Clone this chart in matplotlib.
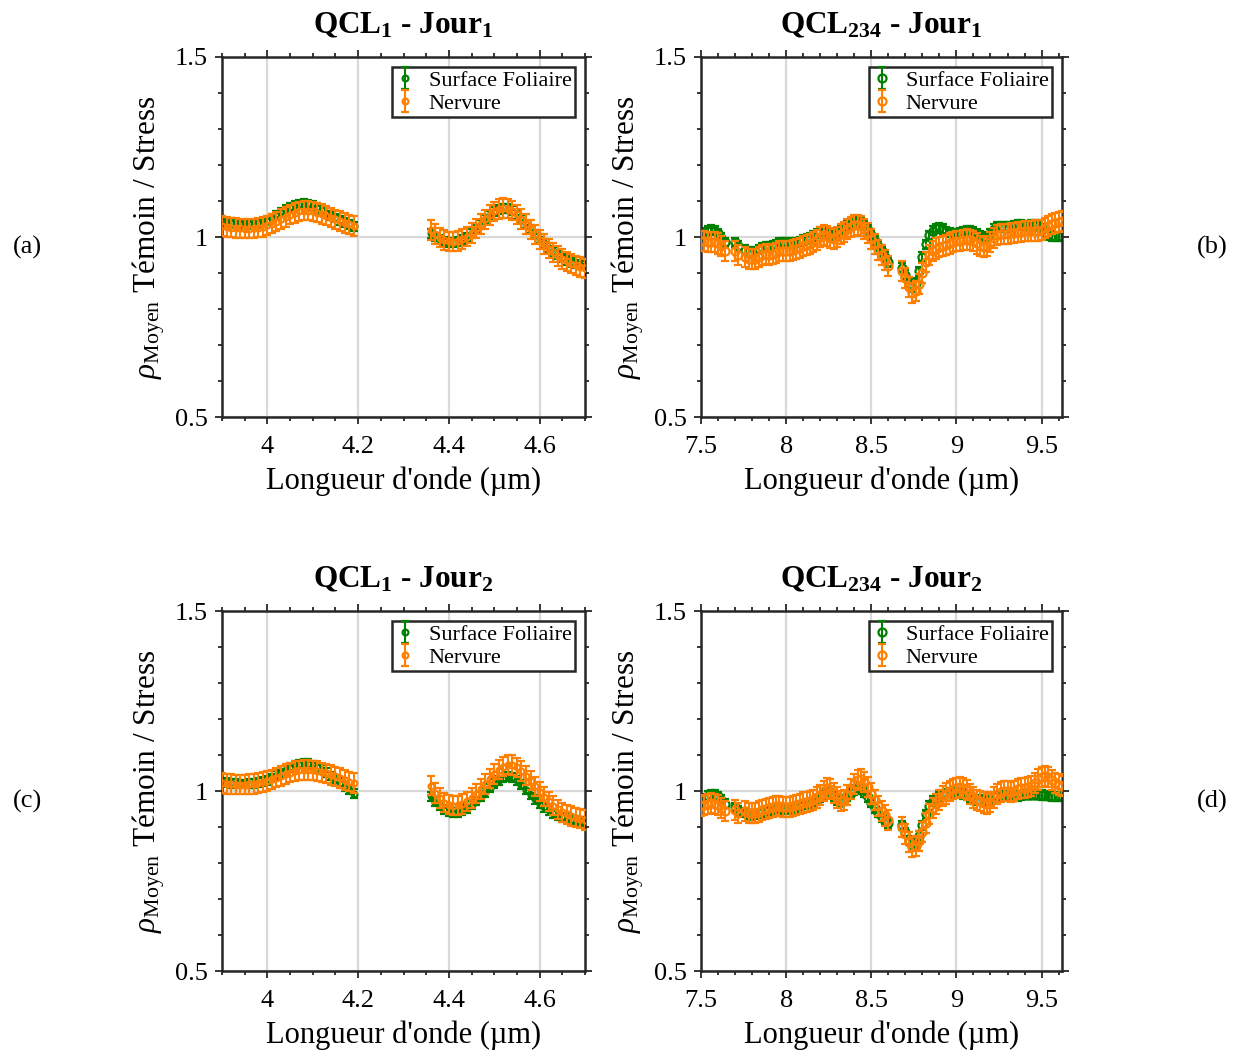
import numpy as np
import matplotlib
matplotlib.use("Agg")
import matplotlib.pyplot as plt
from matplotlib.ticker import MultipleLocator

plt.rcParams['font.family'] = ['Liberation Serif', 'DejaVu Serif']
plt.rcParams['mathtext.fontset'] = 'custom'
plt.rcParams['mathtext.rm'] = 'Liberation Serif'
plt.rcParams['mathtext.it'] = 'Liberation Serif:italic'
plt.rcParams['mathtext.bf'] = 'Liberation Serif:bold'

# ---------------- wavelength grids (µm) ----------------
def grid(a, b, s):
    n = int(round((b - a) / s)) + 1
    return np.round(a + s * np.arange(n), 3)

x_left = np.concatenate([grid(3.90, 4.19, 0.01), grid(4.36, 4.70, 0.01)])
x_right = np.concatenate([grid(7.50, 7.64, 0.02), np.array([7.70, 7.72]),
                          grid(7.76, 8.60, 0.02), grid(8.68, 9.62, 0.02)])

# ---------------- QCL1 - Jour1 ----------------
a_green = [1.045, 1.042, 1.040, 1.038, 1.036, 1.035, 1.035, 1.036, 1.038, 1.040,
           1.045, 1.052, 1.060, 1.068, 1.076, 1.083, 1.088, 1.092, 1.093, 1.092,
           1.088, 1.082, 1.075, 1.068, 1.060, 1.053, 1.046, 1.040, 1.035, 1.030,
           1.010, 1.000, 0.993, 0.988, 0.985, 0.985, 0.988, 0.993, 1.000, 1.010,
           1.022, 1.035, 1.048, 1.060, 1.070, 1.077, 1.080, 1.079, 1.073, 1.063,
           1.050, 1.036, 1.022, 1.008, 0.995, 0.982, 0.970, 0.960, 0.950, 0.942,
           0.935, 0.930, 0.925, 0.922, 0.920]
a_orange = [1.030, 1.028, 1.026, 1.025, 1.024, 1.023, 1.023, 1.024, 1.026, 1.028,
            1.032, 1.037, 1.043, 1.050, 1.056, 1.062, 1.067, 1.071, 1.073, 1.073,
            1.071, 1.068, 1.064, 1.059, 1.054, 1.049, 1.044, 1.039, 1.035, 1.031,
            1.020, 1.008, 0.998, 0.992, 0.988, 0.987, 0.989, 0.994, 1.001, 1.011,
            1.023, 1.036, 1.049, 1.061, 1.071, 1.078, 1.081, 1.079, 1.073, 1.063,
            1.050, 1.036, 1.021, 1.007, 0.993, 0.980, 0.968, 0.957, 0.947, 0.939,
            0.932, 0.926, 0.921, 0.917, 0.913]

# ---------------- QCL1 - Jour2 ----------------
c_green = [1.025, 1.023, 1.021, 1.020, 1.019, 1.019, 1.020, 1.021, 1.023, 1.026,
           1.030, 1.036, 1.043, 1.050, 1.058, 1.065, 1.071, 1.075, 1.077, 1.076,
           1.072, 1.066, 1.059, 1.051, 1.042, 1.033, 1.023, 1.013, 1.003, 0.993,
           0.985, 0.970, 0.958, 0.948, 0.942, 0.940, 0.941, 0.945, 0.952, 0.961,
           0.972, 0.984, 0.996, 1.008, 1.020, 1.030, 1.037, 1.040, 1.038, 1.030,
           1.018, 1.004, 0.990, 0.977, 0.965, 0.955, 0.946, 0.938, 0.932, 0.927,
           0.923, 0.920, 0.918, 0.916, 0.915]
c_orange = [1.022, 1.020, 1.019, 1.018, 1.018, 1.018, 1.019, 1.020, 1.022, 1.025,
            1.028, 1.032, 1.037, 1.042, 1.047, 1.051, 1.055, 1.057, 1.058, 1.058,
            1.057, 1.055, 1.052, 1.049, 1.045, 1.041, 1.036, 1.031, 1.026, 1.022,
            1.015, 0.995, 0.980, 0.968, 0.962, 0.959, 0.960, 0.964, 0.971, 0.981,
            0.993, 1.006, 1.020, 1.034, 1.047, 1.059, 1.068, 1.073, 1.072, 1.066,
            1.056, 1.043, 1.029, 1.013, 0.998, 0.984, 0.971, 0.959, 0.949, 0.941,
            0.935, 0.930, 0.926, 0.923, 0.920]

# ---------------- QCL234 - Jour1 ----------------
b_green = [1.005, 1.012, 1.018, 1.020, 1.018, 1.010, 0.998, 0.985,
           0.985, 0.975,
           0.965, 0.958, 0.956, 0.960, 0.966, 0.970, 0.972, 0.972, 0.975, 0.979,
           0.983, 0.985, 0.985, 0.983, 0.982, 0.984, 0.988, 0.992, 0.995, 0.998,
           1.003, 1.010, 1.015, 1.015, 1.010, 1.005, 1.005, 1.010, 1.018, 1.025,
           1.032, 1.038, 1.042, 1.043, 1.040, 1.032, 1.020, 1.005, 0.990, 0.975,
           0.960, 0.945, 0.930,
           0.915, 0.895, 0.870, 0.860, 0.872, 0.905, 0.945, 0.980, 1.005, 1.018,
           1.024, 1.025, 1.022, 1.016, 1.012, 1.010, 1.010, 1.012, 1.015, 1.018,
           1.018, 1.015, 1.010, 1.004, 1.000, 1.000, 1.008, 1.022, 1.030, 1.030,
           1.028, 1.028, 1.030, 1.032, 1.033, 1.033, 1.032, 1.032, 1.033, 1.033,
           1.030, 1.022, 1.012, 1.005, 1.003, 1.002, 1.002, 1.002]
b_orange = [0.990, 0.988, 0.986, 0.985, 0.985, 0.982, 0.975, 0.960,
            0.960, 0.950,
            0.945, 0.940, 0.938, 0.940, 0.945, 0.950, 0.952, 0.950, 0.952, 0.956,
            0.960, 0.962, 0.962, 0.962, 0.963, 0.966, 0.970, 0.975, 0.978, 0.980,
            0.985, 0.992, 1.000, 1.005, 1.003, 0.998, 0.995, 1.000, 1.008, 1.015,
            1.022, 1.028, 1.032, 1.033, 1.030, 1.022, 1.010, 0.995, 0.980, 0.965,
            0.950, 0.935, 0.920,
            0.905, 0.885, 0.860, 0.845, 0.850, 0.870, 0.900, 0.930, 0.950, 0.962,
            0.968, 0.972, 0.975, 0.978, 0.982, 0.985, 0.988, 0.990, 0.992, 0.993,
            0.992, 0.988, 0.982, 0.975, 0.972, 0.975, 0.985, 0.997, 1.005, 1.008,
            1.008, 1.008, 1.010, 1.012, 1.013, 1.015, 1.016, 1.016, 1.017, 1.018,
            1.018, 1.020, 1.025, 1.030, 1.035, 1.038, 1.042, 1.045]

# ---------------- QCL234 - Jour2 ----------------
d_green = [0.970, 0.980, 0.986, 0.990, 0.990, 0.985, 0.975, 0.965,
           0.955, 0.945,
           0.940, 0.935, 0.933, 0.935, 0.938, 0.942, 0.945, 0.947, 0.950, 0.952,
           0.952, 0.950, 0.950, 0.951, 0.953, 0.956, 0.959, 0.962, 0.965, 0.967,
           0.970, 0.975, 0.982, 0.990, 0.995, 0.993, 0.985, 0.975, 0.970, 0.975,
           0.985, 0.995, 1.003, 1.008, 1.005, 0.995, 0.982, 0.968, 0.953, 0.940,
           0.928, 0.918, 0.910,
           0.905, 0.885, 0.862, 0.850, 0.855, 0.875, 0.905, 0.935, 0.958, 0.972,
           0.980, 0.985, 0.990, 0.993, 0.995, 0.995, 0.995, 0.995, 0.992, 0.988,
           0.983, 0.978, 0.975, 0.975, 0.975, 0.975, 0.978, 0.982, 0.985, 0.987,
           0.987, 0.986, 0.985, 0.985, 0.986, 0.988, 0.990, 0.990, 0.990, 0.990,
           0.990, 0.989, 0.988, 0.987, 0.986, 0.985, 0.985, 0.985]
d_orange = [0.958, 0.962, 0.965, 0.966, 0.965, 0.960, 0.952, 0.945,
            0.948, 0.940,
            0.945, 0.940, 0.938, 0.940, 0.943, 0.947, 0.950, 0.952, 0.955, 0.958,
            0.958, 0.956, 0.955, 0.956, 0.958, 0.962, 0.965, 0.968, 0.970, 0.972,
            0.975, 0.982, 0.990, 1.000, 1.008, 1.005, 0.995, 0.982, 0.972, 0.975,
            0.988, 1.005, 1.020, 1.030, 1.033, 1.025, 1.010, 0.993, 0.975, 0.958,
            0.945, 0.932, 0.920,
            0.900, 0.880, 0.858, 0.845, 0.848, 0.862, 0.885, 0.910, 0.935, 0.952,
            0.965, 0.975, 0.985, 0.993, 1.000, 1.005, 1.008, 1.010, 1.008, 1.002,
            0.992, 0.982, 0.975, 0.972, 0.968, 0.965, 0.970, 0.982, 0.992, 0.998,
            1.000, 1.000, 0.998, 1.000, 1.005, 1.008, 1.008, 1.010, 1.015, 1.022,
            1.032, 1.040, 1.042, 1.038, 1.030, 1.022, 1.018, 1.015]

# error bar half-widths
err_left = {'green': 0.012, 'orange': 0.027}
err_right = {'green': 0.013, 'orange': 0.028}

titles = [r"$\mathbf{QCL_{1}}$ - $\mathbf{Jour_{1}}$",
          r"$\mathbf{QCL_{234}}$ - $\mathbf{Jour_{1}}$",
          r"$\mathbf{QCL_{1}}$ - $\mathbf{Jour_{2}}$",
          r"$\mathbf{QCL_{234}}$ - $\mathbf{Jour_{2}}$"]
panel_tags = ['(a)', '(b)', '(c)', '(d)']
legend_labels = ['Surface Foliaire', 'Nervure']
green = '#008000'
orange = '#FF8000'

W, H = 1243, 1052
fig = plt.figure(figsize=(W / 100, H / 100), dpi=100)

def fx(px):
    return px / W

def fy(px):
    return 1 - px / H

boxes = [(222, 57, 585, 417), (701, 57, 1062, 417),
         (222, 611, 585, 971), (701, 611, 1062, 971)]
datasets = [(x_left, a_green, a_orange, err_left),
            (x_right, b_green, b_orange, err_right),
            (x_left, c_green, c_orange, err_left),
            (x_right, d_green, d_orange, err_right)]

for i, ((l, t, r, b), (xs, g, o, err)) in enumerate(zip(boxes, datasets)):
    ax = fig.add_axes([fx(l), fy(b), fx(r - l), (b - t) / H])
    assert len(xs) == len(g) == len(o)
    ax.grid(True, which='major', color='#d9d9d9', linewidth=1.6, zorder=0)
    ax.set_axisbelow(True)
    ms = 4.2 if i % 2 == 0 else 5.8
    ax.errorbar(xs, g, yerr=err['green'], fmt='o', color=green, ms=ms,
                mfc='none', mew=1.6, elinewidth=1.5, capsize=2.8, capthick=1.5,
                label=legend_labels[0], zorder=2)
    ax.errorbar(xs, o, yerr=err['orange'], fmt='o', color=orange, ms=ms,
                mfc='none', mew=1.6, elinewidth=1.5, capsize=2.8, capthick=1.5,
                label=legend_labels[1], zorder=3)
    ax.set_ylim(0.5, 1.5)
    ax.yaxis.set_minor_locator(MultipleLocator(0.1))
    if i % 2 == 0:
        ax.set_xlim(3.9, 4.7)
        ax.xaxis.set_minor_locator(MultipleLocator(0.05))
        ax.set_xticks([4.0, 4.2, 4.4, 4.6])
        ax.set_xticklabels(['4', '4.2', '4.4', '4.6'])
    else:
        ax.set_xlim(7.5, 9.62)
        ax.set_xticks([7.5, 8, 8.5, 9, 9.5])
        ax.set_xticklabels(['7.5', '8', '8.5', '9', '9.5'])
        ax.xaxis.set_minor_locator(MultipleLocator(0.1))
    ax.set_yticks([0.5, 1.0, 1.5])
    ax.set_yticklabels(['0.5', '1', '1.5'])
    ax.tick_params(which='both', direction='out', top=True, right=True,
                   width=1.3, labelsize=19, colors='#262626', labelcolor='black')
    ax.tick_params(which='major', length=5)
    ax.tick_params(axis='x', which='major', pad=9)
    ax.tick_params(axis='y', which='major', pad=5)
    ax.tick_params(which='minor', length=3)
    for s in ax.spines.values():
        s.set_linewidth(1.8)
        s.set_color('#262626')
    ax.set_xlabel("Longueur d'onde (µm)", fontsize=22, labelpad=6)
    ax.set_ylabel(r"$\rho_{\mathrm{Moyen}}$ Témoin / Stress", fontsize=22.5,
                  labelpad=6)
    ax.set_title(titles[i], fontsize=22.5, fontweight='bold', pad=17)
    leg = ax.legend(loc='upper right', fontsize=16, frameon=True,
                    fancybox=False, edgecolor='#262626', framealpha=1,
                    handlelength=0.9, handletextpad=0.6, borderpad=0.15,
                    labelspacing=0.1, borderaxespad=0.45)
    leg.get_frame().set_linewidth(1.8)
    cy = (t + b) / 2 + 10
    if i % 2 == 0:
        fig.text(fx(27), fy(cy), panel_tags[i], fontsize=19, ha='center', va='center')
    else:
        fig.text(fx(1212), fy(cy), panel_tags[i], fontsize=19, ha='center', va='center')

fig.savefig('out.png', dpi=100)
